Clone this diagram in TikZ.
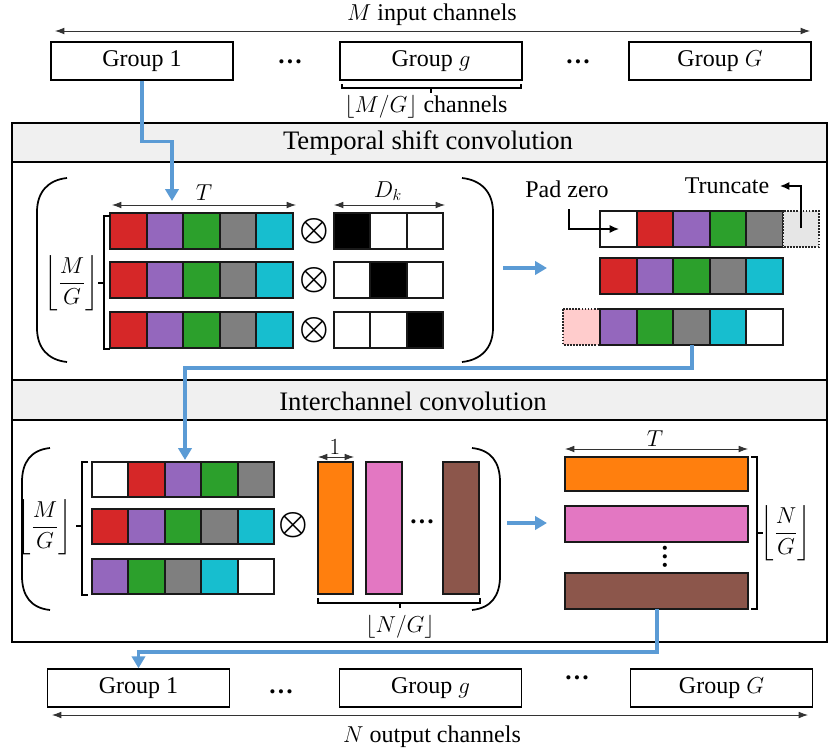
\documentclass[tikz,border=0pt]{standalone}
\usepackage{amsmath}
\usepackage{fontspec}
\setmainfont{Liberation Serif}
\usetikzlibrary{arrows.meta,calc}
\definecolor{cred}{HTML}{D62728}
\definecolor{cpurple}{HTML}{9467BD}
\definecolor{cgreen}{HTML}{2CA02C}
\definecolor{cgray}{HTML}{7F7F7F}
\definecolor{ccyan}{HTML}{17BECF}
\definecolor{corange}{HTML}{FF7F0E}
\definecolor{cpink}{HTML}{E377C2}
\definecolor{cbrown}{HTML}{8C564B}
\definecolor{ltpink}{HTML}{FFCCCC}
\definecolor{ltgray}{HTML}{E6E6E6}
\definecolor{hdrgray}{HTML}{F0F0F0}
\definecolor{lineblue}{HTML}{5B9BD5}
\tikzset{
  every node/.style={font=\fontsize{18}{21}\selectfont, inner sep=0pt},
  grp/.style={draw, line width=1.1pt, minimum width=136.5pt, minimum height=28.5pt},
  frm/.style={draw, line width=1.4pt},
  hdr/.style={draw, line width=1.2pt, fill=hdrgray},
  cellb/.style={draw=black!90, line width=1.4pt},
  dotcell/.style={draw=black!85, line width=1.3pt, densely dotted},
  blueline/.style={draw=lineblue, line width=2.3pt, -{Triangle[width=10pt,length=9pt]}},
  dimarrow/.style={draw=black!80, line width=0.6pt, {Latex[length=7pt,width=5pt]}-{Latex[length=7pt,width=5pt]}},
  brk/.style={draw, line width=1.1pt},
  paren/.style={draw, line width=1.3pt},
  blk/.style={draw, line width=1pt, -{Latex[length=7pt,width=6pt]}},
  bigotimes/.style={font=\fontsize{24}{24}\selectfont},
  ell/.style={font=\fontsize{19}{19}\selectfont\bfseries},
}
\begin{document}
\begin{tikzpicture}[x={(0.75pt,0)}, y={(0,-0.75pt)}]
\useasboundingbox (0,0) rectangle (829,753);

% ---------- top ----------
\node (mtxt) at (432,15) {$M$ input channels};
\coordinate (ml) at (55,31);
\coordinate (mr) at (810,31);
\draw[dimarrow] (ml) -- (mr);
\node[grp] (g1t) at (142,61) {Group 1};
\node[grp] (ggt) at (431,61) {Group $g$};
\node[grp] (gGt) at (720,61) {Group $G$};
\node[ell] (dt1) at (290,62) {…};
\node[ell] (dt2) at (578,62) {…};
\draw[brk] (342,84) -- (342,88) -- (521,88) -- (521,84) (431,88) -- (431,93);
\node (mgch) at (426,107) {$\lfloor M/G\rfloor$ channels};

% ---------- frames ----------
\draw[frm] (12,123) rectangle (827,380);
\draw[hdr] (12,123) rectangle (827,162);
\node[font=\fontsize{20}{22}\selectfont] (h1) at (428,143) {Temporal shift convolution};
\draw[frm] (12,380) rectangle (827,642);
\draw[hdr] (12,380) rectangle (827,420);
\node[font=\fontsize{20}{22}\selectfont] (h2) at (413,401) {Interchannel convolution};

% ---------- temporal shift: left ----------
\draw[paren] (67,178) .. controls (48,180) and (37,192) .. (37,212) -- (37,328) .. controls (37,348) and (48,360) .. (67,362);
\draw[paren] (462,178) .. controls (481,180) and (493,192) .. (493,212) -- (493,328) .. controls (493,348) and (481,360) .. (462,362);
\node (tlab) at (204,193) {$T$};
\coordinate (tl) at (112,205);
\coordinate (tr) at (296,205);
\draw[dimarrow] (tl) -- (tr);
\foreach \y in {213,262,312}{
  \foreach \c [count=\i from 0] in {cred,cpurple,cgreen,cgray,ccyan}
    \path[cellb, fill=\c] ({110+\i*36.6},\y) rectangle ++(36.6,36);
}
\draw[brk] (110,216) -- (104,216) -- (104,349) -- (110,349) (98,283) -- (104,283);
\node (mg1) at (72,283) {$\left\lfloor\dfrac{M}{G}\right\rfloor$};
\node[bigotimes] (o1) at (314,231) {$\boldsymbol{\otimes}$};
\node[bigotimes] (o2) at (314,280) {$\boldsymbol{\otimes}$};
\node[bigotimes] (o3) at (314,330) {$\boldsymbol{\otimes}$};
\node (dklab) at (388,191) {$D_k$};
\coordinate (dl) at (334,205);
\coordinate (dr) at (445,205);
\draw[dimarrow] (dl) -- (dr);
\foreach \c [count=\i from 0] in {black,white,white}
  \path[cellb, fill=\c] ({334+\i*36.4},213) rectangle ++(36.4,36);
\foreach \c [count=\i from 0] in {white,black,white}
  \path[cellb, fill=\c] ({334+\i*36.4},262) rectangle ++(36.4,36);
\foreach \c [count=\i from 0] in {white,white,black}
  \path[cellb, fill=\c] ({334+\i*36.4},312) rectangle ++(36.4,36);
\coordinate (b1s) at (503,268);
\coordinate (b1e) at (547,268);
\draw[blueline] (b1s) -- (b1e);

% ---------- temporal shift: right ----------
\foreach \c [count=\i from 0] in {white,cred,cpurple,cgreen,cgray}
  \path[cellb, fill=\c] ({600+\i*36.6},211) rectangle ++(36.6,36);
\path[dotcell, fill=ltgray] (783,211) rectangle (819,247);
\foreach \c [count=\i from 0] in {cred,cpurple,cgreen,cgray,ccyan}
  \path[cellb, fill=\c] ({600+\i*36.6},258) rectangle ++(36.6,36);
\path[dotcell, fill=ltpink] (563,309) rectangle (600,345);
\foreach \c [count=\i from 0] in {cpurple,cgreen,cgray,ccyan,white}
  \path[cellb, fill=\c] ({600+\i*36.6},309) rectangle ++(36.6,36);
\node (pad) at (567,189) {Pad zero};
\node (trunc) at (727,186) {Truncate};
\coordinate (padend) at (619,229);
\draw[blk] (569,209) |- (padend);
\coordinate (trs) at (801,228);
\coordinate (tre) at (780,186);
\draw[blk] (trs) |- (tre);

% ---------- connectors ----------
\coordinate (a1) at (172,201);
\draw[blueline] (g1t.south) -- ++(0,61) -| (a1);
\coordinate (s2) at (692,345);
\coordinate (a2) at (185,460);
\draw[blueline] (s2) -- (692,368) -| (a2);

% ---------- interchannel: left ----------
\draw[paren] (50,448) .. controls (31,450) and (22,462) .. (22,482) -- (22,576) .. controls (22,596) and (31,608) .. (50,610);
\draw[paren] (472,448) .. controls (491,450) and (500,462) .. (500,482) -- (500,576) .. controls (500,596) and (491,608) .. (472,610);
\foreach \c [count=\i from 0] in {white,cred,cpurple,cgreen,cgray}
  \path[cellb, fill=\c] ({92+\i*36.4},462) rectangle ++(36.4,35);
\foreach \c [count=\i from 0] in {cred,cpurple,cgreen,cgray,ccyan}
  \path[cellb, fill=\c] ({92+\i*36.4},509) rectangle ++(36.4,35);
\foreach \c [count=\i from 0] in {cpurple,cgreen,cgray,ccyan,white}
  \path[cellb, fill=\c] ({92+\i*36.4},559) rectangle ++(36.4,35);
\draw[brk] (88,462) -- (82,462) -- (82,595) -- (88,595) (76,526) -- (82,526);
\node (mg2) at (45,527) {$\left\lfloor\dfrac{M}{G}\right\rfloor$};
\node[bigotimes] (o4) at (293,525) {$\boldsymbol{\otimes}$};
\path[cellb, fill=corange] (318,462) rectangle (353,594);
\path[cellb, fill=cpink] (366,462) rectangle (402,594);
\path[cellb, fill=cbrown] (443,462) rectangle (479,594);
\node[ell] (hd) at (422,522) {…};
\node (one) at (335,447) {$1$};
\coordinate (ol) at (318,457);
\coordinate (or) at (354,457);
\draw[dimarrow] (ol) -- (or);
\draw[brk] (318,598) -- (318,603) -- (480,603) -- (480,598) (400,603) -- (400,608);
\node (ngl) at (400,627) {$\lfloor N/G\rfloor$};
\coordinate (b2s) at (507,523);
\coordinate (b2e) at (547,523);
\draw[blueline] (b2s) -- (b2e);

% ---------- interchannel: right ----------
\node (tlab2) at (655,439) {$T$};
\coordinate (tl2) at (565,449);
\coordinate (tr2) at (748,449);
\draw[dimarrow] (tl2) -- (tr2);
\path[cellb, fill=corange] (565,457) rectangle (748,491);
\path[cellb, fill=cpink] (565,506) rectangle (748,542);
\path[cellb, fill=cbrown] (565,573) rectangle (748,609);
\node[ell, rotate=90] (vd) at (665,557) {…};
\draw[brk] (751,457) -- (757,457) -- (757,609) -- (751,609) (757,533) -- (763,533);
\node (ng2) at (786,533) {$\left\lfloor\dfrac{N}{G}\right\rfloor$};

% ---------- bottom ----------
\node[grp] (g1b) at (138.5,688) {Group 1};
\node[grp] (ggb) at (430.5,688) {Group $g$};
\node[grp] (gGb) at (721.5,688) {Group $G$};
\node[ell] (db1) at (281,692) {…};
\node[ell] (db2) at (577,678) {…};
\coordinate (s3) at (657,609);
\draw[blueline] (s3) -- (657,652) -| (g1b.north);
\coordinate (nl) at (52,715);
\coordinate (nr) at (808,715);
\draw[dimarrow] (nl) -- (nr);
\node (ntxt) at (432,737) {$N$ output channels};
\end{tikzpicture}
\end{document}
